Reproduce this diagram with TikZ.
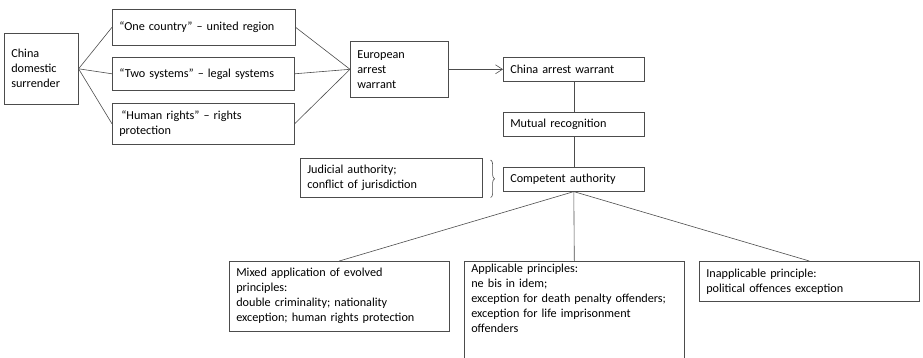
\documentclass[tikz,border=0pt]{standalone}
\usepackage{fontspec}
\setmainfont{Carlito}
\usetikzlibrary{arrows.meta,decorations.pathreplacing}
\tikzset{
  box/.style={draw=black!70, line width=0.6pt, anchor=north west, align=left,
    inner xsep=7pt, inner ysep=3pt, font=\fontsize{12.2}{15}\selectfont},
  link/.style={draw=black!70, line width=0.6pt}
}
\begin{document}
\begin{tikzpicture}[x=1pt,y=-1pt]
\useasboundingbox (0,0) rectangle (923,358);
\clip (0,0) rectangle (923,358);
\node (dom) [box, text width=60pt, minimum height=71pt] at (4,33) {China\\domestic\\surrender};
\node (one) [box, text width=169pt, minimum height=36pt] at (112,9) {“One country” – united region};
\node (two) [box, text width=168pt, minimum height=33pt] at (112,57) {“Two systems” – legal systems};
\node (hum) [box, text width=168pt, minimum height=41pt] at (112,103) {\hspace{2pt}“Human rights” – rights\\protection};
\node (eaw) [box, text width=84pt, minimum height=56pt] at (350,41) {European\\arrest\\warrant};
\node (caw) [box, text width=127pt, minimum height=24pt] at (503,57) {China arrest warrant};
\node (mut) [box, text width=127pt, minimum height=24pt] at (503,112) {Mutual recognition};
\node (com) [box, text width=127pt, minimum height=24pt] at (503,167) {Competent authority};
\node (jud) [box, text width=168pt, minimum height=39pt] at (300,158) {Judicial authority;\\conflict of jurisdiction};
\node (mix) [box, text width=206pt, minimum height=70pt] at (229,261) {Mixed application of evolved\\principles:\\double criminality; nationality\\exception; human rights protection};
\node (app) [box, text width=206pt, minimum height=115pt] at (464,261) {Applicable principles:\\ne bis in idem;\\exception for death penalty offenders;\\exception for life imprisonment\\offenders\\[30pt]\mbox{}};
\node (ina) [box, text width=206pt, minimum height=40pt] at (699,261) {Inapplicable principle:\\political offences exception};
\draw [link] (dom.east)--(one.west);
\draw [link] (dom.east)--(two.west);
\draw [link] (dom.east)--(hum.west);
\draw [link] (one.east)--(eaw.west);
\draw [link] (two.east)--(eaw.west);
\draw [link] (hum.east)--(eaw.west);
\draw [link, -{Straight Barb[length=7pt,width=9pt]}] (eaw.east)--(caw.west);
\draw [link] (caw.south)--(mut.north);
\draw [link] (mut.south)--(com.north);
\draw [link, decorate, decoration={brace, amplitude=4pt}] ([xshift=8pt,yshift=-2pt]jud.north east)--([xshift=8pt]jud.south east);
\draw [link] (com.south)--(mix.north);
\draw [link] (com.south)--(app.north);
\draw [link] (com.south)--(ina.north);
\end{tikzpicture}
\end{document}
